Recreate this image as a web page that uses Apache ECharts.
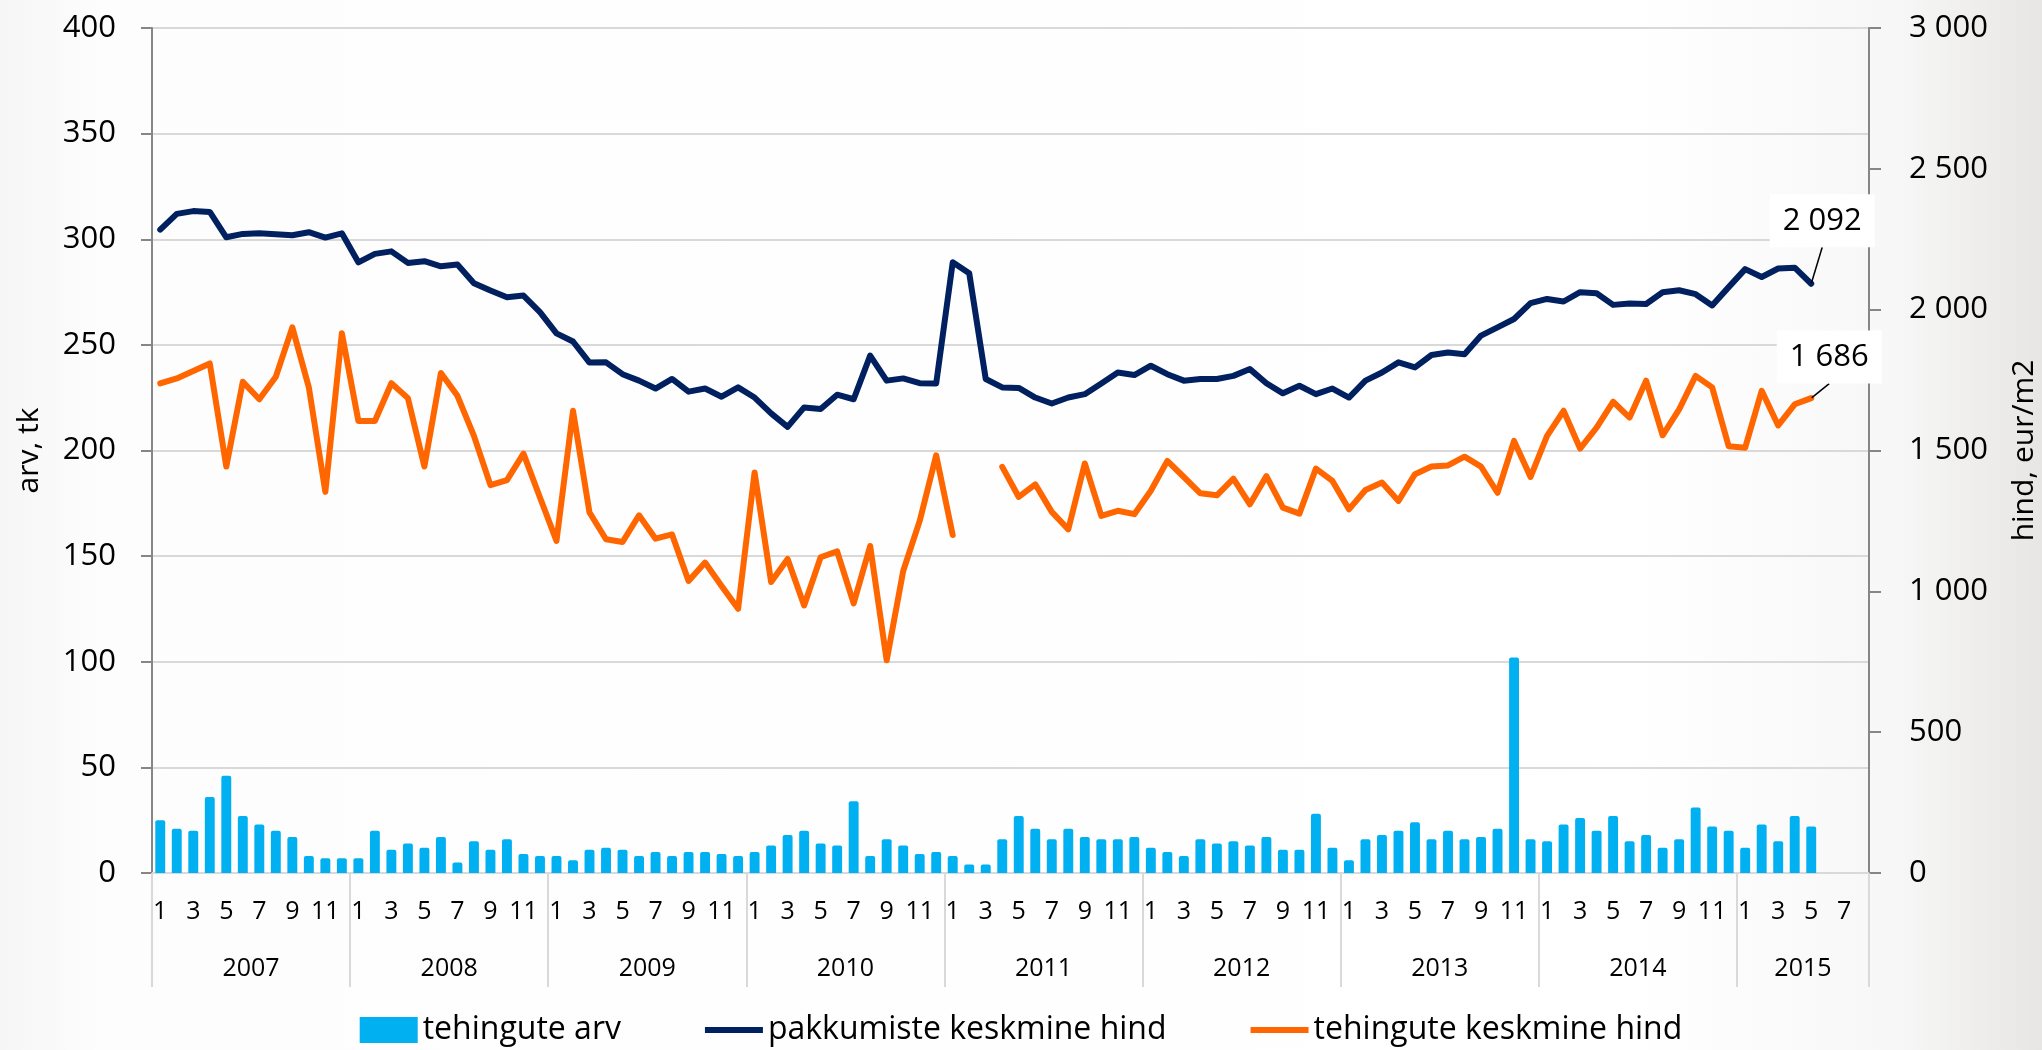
<!DOCTYPE html>
<html>
<head>
<meta charset="utf-8">
<script src="https://cdn.jsdelivr.net/npm/echarts@6/dist/echarts.min.js"></script>
<style>
html,body{margin:0;padding:0;background:#fff;}
#chart{width:2042px;height:1050px;}
</style>
</head>
<body>
<div id="chart"></div>
<script>
// ---- data ----
const years = [2007, 2008, 2009, 2010, 2011, 2012, 2013, 2014, 2015];
const monthsPerYear = [12, 12, 12, 12, 12, 12, 12, 12, 8];

// tehingute arv (count, left axis)
const dealCount = [
  25, 21, 20, 36, 46, 27, 23, 20, 17, 8, 7, 7,
  7, 20, 11, 14, 12, 17, 5, 15, 11, 16, 9, 8,
  8, 6, 11, 12, 11, 8, 10, 8, 10, 10, 9, 8,
  10, 13, 18, 20, 14, 13, 34, 8, 16, 13, 9, 10,
  8, 4, 4, 16, 27, 21, 16, 21, 17, 16, 16, 17,
  12, 10, 8, 16, 14, 15, 13, 17, 11, 11, 28, 12,
  6, 16, 18, 20, 24, 16, 20, 16, 17, 21, 102, 16,
  15, 23, 26, 20, 27, 15, 18, 12, 16, 31, 22, 20,
  12, 23, 15, 27, 22, null, null, null
];

// pakkumiste keskmine hind (eur/m2, right axis)
const askPrice = [
  2284, 2340, 2350, 2347, 2257, 2269, 2271, 2268, 2264, 2275, 2256, 2271,
  2168, 2198, 2207, 2166, 2172, 2154, 2160, 2094, 2068, 2044, 2050, 1991,
  1916, 1887, 1812, 1813, 1771, 1748, 1720, 1754, 1709, 1720, 1691, 1724,
  1688, 1632, 1584, 1653, 1647, 1698, 1682, 1837, 1748, 1756, 1739, 1738,
  2168, 2129, 1754, 1724, 1722, 1688, 1667, 1688, 1700, 1738, 1777, 1768,
  1801, 1771, 1748, 1754, 1754, 1765, 1789, 1739, 1703, 1730, 1700, 1720,
  1688, 1748, 1777, 1813, 1795, 1839, 1848, 1842, 1908, 1937, 1967, 2023,
  2038, 2029, 2062, 2058, 2017, 2022, 2020, 2062, 2069, 2055, 2015, 2080,
  2144, 2116, 2146, 2149, 2092, null, null, null
];

// tehingute keskmine hind (eur/m2, right axis)
const dealPrice = [
  1738, 1756, 1782, 1809, 1443, 1744, 1682, 1762, 1937, 1724, 1353, 1916,
  1605, 1605, 1739, 1686, 1443, 1775, 1694, 1552, 1377, 1395, 1489, 1333,
  1179, 1641, 1280, 1185, 1175, 1270, 1187, 1202, 1037, 1102, 1019, 938,
  1422, 1033, 1115, 950, 1121, 1142, 957, 1161, 755, 1072, 1250, 1483,
  1200, null, null, 1442, 1335, 1380, 1282, 1220, 1454, 1268, 1286, 1274,
  1357, 1463, 1406, 1348, 1341, 1400, 1309, 1409, 1297, 1276, 1436, 1392,
  1291, 1360, 1386, 1321, 1416, 1443, 1447, 1478, 1443, 1350, 1534, 1406,
  1552, 1641, 1507, 1581, 1673, 1617, 1748, 1554, 1646, 1765, 1724, 1515,
  1510, 1712, 1589, 1664, 1686, null, null, null
];

const seriesNames = ['tehingute arv', 'pakkumiste keskmine hind', 'tehingute keskmine hind'];
const colors = ['#00b0f0', '#002060', '#ff6600'];

// ---- build categories ----
const categories = [];
const yearLabelIndex = {};
const yearStartIndex = new Set();
years.forEach((y, yi) => {
  const start = categories.length;
  yearStartIndex.add(start);
  yearLabelIndex[start + monthsPerYear[yi] / 2] = String(y);
  for (let m = 1; m <= monthsPerYear[yi]; m++) categories.push(y + '-' + m);
});

const fmtThousands = v => String(Math.round(v)).replace(/\B(?=(\d{3})+(?!\d))/g, ' ');

function withEndLabel(arr) {
  let last = arr.length - 1;
  while (last >= 0 && arr[last] == null) last--;
  return arr.map((v, i) => i === last ? { value: v, label: { show: true } } : v);
}

const FONT = '"Open Sans", "Noto Sans", sans-serif';
const BAND = 1717 / categories.length;

const chart = echarts.init(document.getElementById('chart'), null, { renderer: 'canvas' });

const endLabel = {
  show: false,
  position: 'top',
  formatter: p => fmtThousands(p.value),
  fontFamily: FONT,
  fontSize: 31,
  color: '#000',
  backgroundColor: '#ffffff',
  padding: [11, 13]
};

chart.setOption({
  backgroundColor: {
    type: 'linear', x: 0, y: 0, x2: 1, y2: 0,
    colorStops: [
      { offset: 0, color: '#f6f6f6' },
      { offset: 0.05, color: '#fdfdfd' },
      { offset: 0.8, color: '#ffffff' },
      { offset: 0.93, color: '#f7f7f7' },
      { offset: 1, color: '#e8e6e4' }
    ]
  },
  animation: false,
  textStyle: { fontFamily: FONT, color: '#000' },
  grid: { left: 152, right: 173, top: 28, bottom: 177, outerBoundsMode: 'none', containLabel: false },
  legend: {
    left: 'center',
    top: 1009,
    itemWidth: 58,
    itemHeight: 26,
    itemGap: 84,
    textStyle: { fontFamily: FONT, fontSize: 32, color: '#000' },
    data: [
      { name: seriesNames[0], icon: 'rect' },
      { name: seriesNames[1], icon: 'path://M0,0H100V10H0Z' },
      { name: seriesNames[2], icon: 'path://M0,0H100V10H0Z' }
    ]
  },
  xAxis: [
    {
      type: 'category',
      data: categories,
      position: 'bottom',
      boundaryGap: true,
      axisLine: { show: true, lineStyle: { color: '#d9d9d9', width: 2 } },
      axisTick: { show: false },
      axisLabel: {
        interval: 1,
        margin: 26,
        fontSize: 25,
        lineHeight: 26,
        color: '#000',
        formatter: v => v.split('-')[1]
      },
      splitLine: { show: false }
    },
    {
      type: 'category',
      data: categories,
      position: 'bottom',
      offset: 0,
      boundaryGap: true,
      axisLine: { show: false },
      axisTick: {
        show: true,
        length: 114,
        interval: idx => yearStartIndex.has(idx),
        lineStyle: { color: '#d9d9d9', width: 2 }
      },
      axisLabel: {
        interval: idx => yearLabelIndex[idx] !== undefined,
        margin: 83,
        fontSize: 25,
        lineHeight: 26,
        color: '#000',
        padding: [0, BAND, 0, 0],
        formatter: (v, idx) => yearLabelIndex[idx] || ''
      },
      splitLine: { show: false }
    }
  ],
  yAxis: [
    {
      type: 'value',
      position: 'left',
      min: 0, max: 400, interval: 50,
      name: 'arv, tk',
      nameLocation: 'middle',
      nameGap: 108,
      nameRotate: 90,
      nameTextStyle: { fontSize: 30, color: '#000', fontFamily: FONT },
      axisLine: { show: true, lineStyle: { color: '#868686', width: 2 } },
      axisTick: { show: true, length: 11, lineStyle: { color: '#868686', width: 2 } },
      axisLabel: { margin: 36, fontSize: 31, color: '#000' },
      splitLine: { show: true, lineStyle: { color: '#d9d9d9', width: 2 } }
    },
    {
      type: 'value',
      position: 'right',
      min: 0, max: 3000, interval: 500,
      name: 'hind, eur/m2',
      nameLocation: 'middle',
      nameGap: 140,
      nameRotate: 90,
      nameTextStyle: { fontSize: 30, color: '#000', fontFamily: FONT },
      axisLine: { show: true, lineStyle: { color: '#868686', width: 2 } },
      axisTick: { show: true, length: 12, lineStyle: { color: '#868686', width: 2 } },
      axisLabel: { margin: 40, fontSize: 31, color: '#000', formatter: fmtThousands },
      splitLine: { show: false }
    }
  ],
  series: [
    {
      name: seriesNames[0],
      type: 'bar',
      xAxisIndex: 0,
      yAxisIndex: 0,
      data: dealCount,
      barWidth: '60%',
      itemStyle: { color: colors[0], borderRadius: [2, 2, 0, 0] },
      z: 2
    },
    {
      name: seriesNames[1],
      type: 'line',
      xAxisIndex: 0,
      yAxisIndex: 1,
      data: withEndLabel(askPrice),
      symbol: 'circle',
      symbolSize: 1,
      showSymbol: true,
      showAllSymbol: true,
      itemStyle: { color: colors[1] },
      lineStyle: { color: colors[1], width: 6, cap: 'round', join: 'round' },
      label: endLabel,
      labelLine: { show: true, lineStyle: { color: '#000', width: 1.5 } },
      labelLayout: { dx: 11, dy: -31 },
      z: 3
    },
    {
      name: seriesNames[2],
      type: 'line',
      xAxisIndex: 0,
      yAxisIndex: 1,
      data: withEndLabel(dealPrice),
      symbol: 'circle',
      symbolSize: 1,
      showSymbol: true,
      showAllSymbol: true,
      connectNulls: false,
      itemStyle: { color: colors[2] },
      lineStyle: { color: colors[2], width: 6, cap: 'round', join: 'round' },
      label: endLabel,
      labelLine: { show: true, lineStyle: { color: '#000', width: 1.5 } },
      labelLayout: { dx: 18, dy: -9 },
      z: 4
    }
  ]
});
</script>
</body>
</html>
